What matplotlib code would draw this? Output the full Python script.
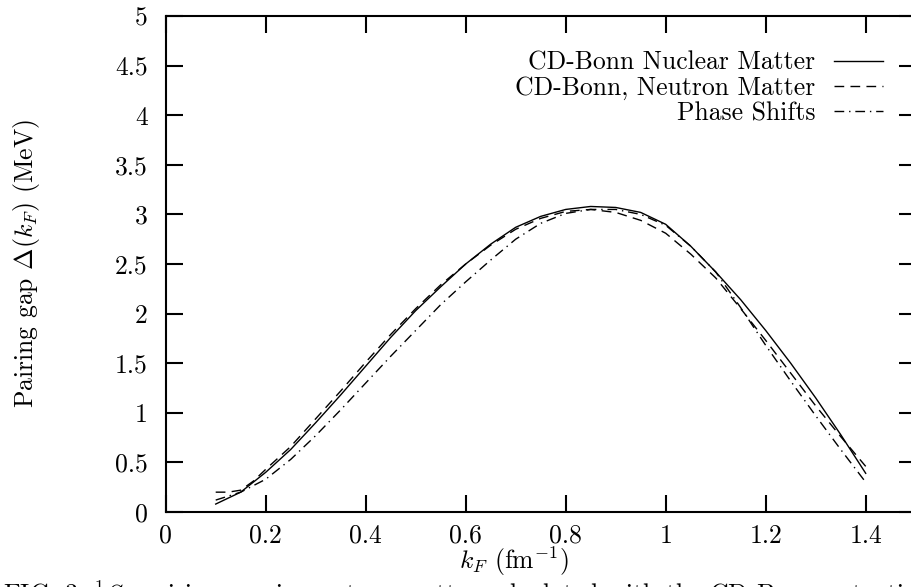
import matplotlib
matplotlib.use("Agg")
import matplotlib.pyplot as plt

plt.rcParams['font.family'] = 'serif'
plt.rcParams['font.serif'] = ['cmr10', 'DejaVu Serif']
plt.rcParams['mathtext.fontset'] = 'cm'
plt.rcParams['axes.unicode_minus'] = False
plt.rcParams['axes.formatter.use_mathtext'] = True

# k_F values (fm^-1)
kf = [0.10, 0.15, 0.20, 0.25, 0.30, 0.35, 0.40, 0.45, 0.50, 0.55, 0.60, 0.65, 0.70,
      0.75, 0.80, 0.85, 0.90, 0.95, 1.00, 1.05, 1.10, 1.15, 1.20, 1.25, 1.30, 1.35, 1.40]

# CD-Bonn nuclear matter
gap_nuclear = [0.08, 0.20, 0.40, 0.63, 0.90, 1.18, 1.47, 1.76, 2.03, 2.27, 2.50, 2.70, 2.87,
               2.98, 3.05, 3.08, 3.07, 3.02, 2.90, 2.68, 2.42, 2.14, 1.83, 1.50, 1.15, 0.78, 0.39]

# CD-Bonn neutron matter
kf_neutron = [0.10, 0.125, 0.15, 0.175, 0.20, 0.25, 0.30, 0.35, 0.40, 0.45, 0.50, 0.55, 0.60,
              0.65, 0.70, 0.75, 0.80, 0.85, 0.90, 0.95, 1.00, 1.05, 1.10, 1.15, 1.20, 1.25,
              1.30, 1.35, 1.40]
gap_neutron = [0.20, 0.20, 0.22, 0.31, 0.43, 0.66, 0.94, 1.22, 1.51, 1.79, 2.05, 2.29, 2.50,
               2.69, 2.85, 2.96, 3.03, 3.05, 3.02, 2.94, 2.81, 2.60, 2.36, 2.05, 1.73, 1.40,
               1.07, 0.76, 0.46]

# phase shifts
gap_phase = [0.12, 0.20, 0.33, 0.53, 0.77, 1.03, 1.30, 1.57, 1.83, 2.09, 2.32, 2.54, 2.75,
             2.91, 3.01, 3.05, 3.05, 3.00, 2.89, 2.68, 2.42, 2.06, 1.68, 1.32, 0.97, 0.63, 0.30]

xticks = [0, 0.2, 0.4, 0.6, 0.8, 1.0, 1.2, 1.4]
xticklabels = ['0', '0.2', '0.4', '0.6', '0.8', '1', '1.2', '1.4']
yticks = [0, 0.5, 1, 1.5, 2, 2.5, 3, 3.5, 4, 4.5, 5]
yticklabels = ['0', '0.5', '1', '1.5', '2', '2.5', '3', '3.5', '4', '4.5', '5']

FS = 18.5
W, H = 912, 587
fig = plt.figure(figsize=(W / 100, H / 100), dpi=100)
ax = fig.add_axes([165.7 / W, (H - 512) / H, 750 / W, 496 / H])

ax.plot(kf, gap_nuclear, color='black', lw=1.0, ls='-', label='CD-Bonn Nuclear Matter')
ax.plot(kf_neutron, gap_neutron, color='black', lw=1.0, ls=(0, (7, 4.5)),
        label='CD-Bonn, Neutron Matter')
ax.plot(kf, gap_phase, color='black', lw=1.0, ls=(0, (7, 3.5, 1, 3.5)), label='Phase Shifts')

ax.set_xlim(0, 1.5)
ax.set_ylim(0, 5)
ax.set_xticks(xticks)
ax.set_xticklabels(xticklabels)
ax.set_yticks(yticks)
ax.set_yticklabels(yticklabels)
ax.tick_params(direction='in', length=12, width=1.5, top=True, right=True, labelsize=FS)
ax.tick_params(axis='x', pad=8.5)
ax.tick_params(axis='y', pad=13)
for s in ax.spines.values():
    s.set_linewidth(1.5)

ax.set_xlabel(r'$k_F$ (fm$^{-1}$)', fontsize=FS)
ax.xaxis.set_label_coords((514 - 165.7) / 750, -(545 - 512) / 496)
ax.set_ylabel(r'Pairing gap $\Delta(k_F)$ (MeV)', fontsize=18.5)
ax.yaxis.set_label_coords(-(165.7 - 42) / 750, 0.5)

ax.legend(loc='upper right', bbox_to_anchor=((883 - 165.7) / 750, 1 - (51 - 16) / 496),
          frameon=False, markerfirst=False, fontsize=FS, handlelength=1.92,
          handletextpad=0.72, labelspacing=0.06, borderpad=0, borderaxespad=0)

fig.text(3 / W, 1 - 579 / H,
         r'FIG. 3: $^1S_0$ pairing gap in neutron matter calculated with the CD-Bonn potential and',
         fontsize=FS, va='top', ha='left')

fig.savefig('out.png', dpi=100)
